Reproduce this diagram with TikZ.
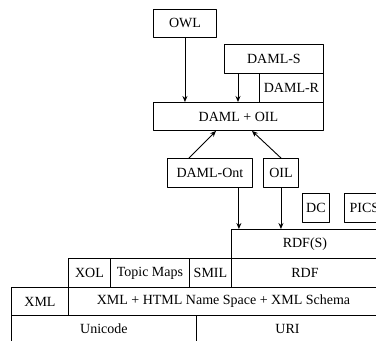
\documentclass[tikz,border=0pt]{standalone}
\usepackage{fontspec}
\setmainfont{Liberation Serif}
\usetikzlibrary{arrows.meta}

\begin{document}
\begin{tikzpicture}[x=1pt,y=-1pt,line cap=round,line join=round,
  cell/.style={draw,line width=.9pt,anchor=north west,inner sep=0pt,
    font=\fontsize{14}{16}\selectfont},
  arr/.style={line width=.9pt,-{Stealth[length=6pt,width=5pt]}}]

\useasboundingbox (0,0) rectangle (376,341);
\clip (0,0) rectangle (376,341);

% Upper language stack.
\node[cell,minimum width=63,minimum height=28] (owl) at (153,9) {OWL};
\node[cell,minimum width=99,minimum height=29] (damls) at (224,44) {DAML-S};
\node[cell,minimum width=64,minimum height=29] (damlr) at (259,73) {DAML-R};
\node[cell,minimum width=170,minimum height=28] (damloil) at (153,102) {DAML + OIL};
\node[cell,minimum width=85,minimum height=29] (damlont) at (167,158) {DAML-Ont};
\node[cell,minimum width=35,minimum height=29] (oil) at (263,158) {OIL};
\node[cell,minimum width=27,minimum height=29] (dc) at (302,193) {DC};
\node[cell,minimum width=40,minimum height=29] (pics) at (344,193) {PICS};

% Layers at the bottom.
\node[cell,minimum width=147,minimum height=29] (rdfs) at (231,229) {RDF(S)};
\node[cell,minimum width=147,minimum height=29] (rdf) at (231,258) {RDF};
\node[cell,minimum width=42,minimum height=29] (xol) at (68,258) {XOL};
\node[cell,minimum width=79,minimum height=29] (topicmaps) at (110,258) {Topic Maps};
\node[cell,minimum width=42,minimum height=29] (smil) at (189,258) {SMIL};
\node[cell,minimum width=57,minimum height=28] (xml) at (11,287) {XML};
\node[cell,minimum width=310,minimum height=28] (xmlns) at (68,287)
  {XML + HTML Name Space + XML Schema};
\node[cell,minimum width=185,minimum height=27] (unicode) at (11,315) {Unicode};
\node[cell,minimum width=182,minimum height=27] (uri) at (196,315) {URI};

% Arrows.
\coordinate (dsfoot) at ([xshift=14pt]damls.south west);
\coordinate (ontfoot) at ([xshift=-14pt]damlont.south east);
\draw[arr] (owl.south) -- (owl.south |- damloil.north);
\draw[arr] (dsfoot) -- (dsfoot |- damloil.north);
\draw[arr] ([xshift=22pt]damlont.north west) -- ([xshift=63pt]damloil.south west);
\draw[arr] (oil.north) -- ([xshift=99pt]damloil.south west);
\draw[arr] (ontfoot) -- (ontfoot |- rdfs.north);
\draw[arr] (oil.south) -- (oil.south |- rdfs.north);

\end{tikzpicture}
\end{document}
